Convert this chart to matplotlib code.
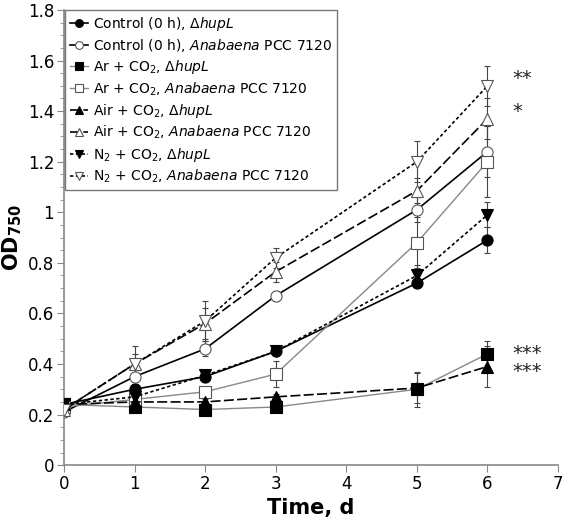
import matplotlib
matplotlib.use("Agg")
import matplotlib.pyplot as plt
from matplotlib.ticker import MultipleLocator, FuncFormatter

days = [0, 1, 2, 3, 5, 6]

ctrl_hup = [0.24, 0.30, 0.35, 0.45, 0.72, 0.89]
ctrl_hup_err = [0.01, 0.02, 0.02, 0.02, 0.02, 0.05]
ctrl_ana = [0.21, 0.35, 0.46, 0.67, 1.01, 1.24]
ctrl_ana_err = [0.01, 0.03, 0.03, 0.02, 0.05, 0.10]
ar_hup = [0.24, 0.23, 0.22, 0.23, 0.30, 0.44]
ar_hup_err = [0.01, 0.01, 0.02, 0.01, 0.07, 0.05]
ar_ana = [0.23, 0.26, 0.29, 0.36, 0.88, 1.20]
ar_ana_err = [0.01, 0.02, 0.02, 0.05, 0.10, 0.14]
air_hup = [0.24, 0.25, 0.25, 0.27, 0.305, 0.39]
air_hup_err = [0.01, 0.01, 0.01, 0.01, 0.06, 0.08]
air_ana = [0.22, 0.40, 0.56, 0.765, 1.085, 1.37]
air_ana_err = [0.01, 0.04, 0.06, 0.04, 0.05, 0.08]
n2_hup = [0.24, 0.27, 0.355, 0.45, 0.75, 0.99]
n2_hup_err = [0.01, 0.02, 0.02, 0.02, 0.04, 0.05]
n2_ana = [0.22, 0.40, 0.57, 0.82, 1.20, 1.50]
n2_ana_err = [0.01, 0.07, 0.08, 0.04, 0.08, 0.08]

labels = [
    r"Control (0 h), $\Delta\mathit{hupL}$",
    r"Control (0 h), $\mathit{Anabaena}$ PCC 7120",
    r"Ar + CO$_2$, $\Delta\mathit{hupL}$",
    r"Ar + CO$_2$, $\mathit{Anabaena}$ PCC 7120",
    r"Air + CO$_2$, $\Delta\mathit{hupL}$",
    r"Air + CO$_2$, $\mathit{Anabaena}$ PCC 7120",
    r"N$_2$ + CO$_2$, $\Delta\mathit{hupL}$",
    r"N$_2$ + CO$_2$, $\mathit{Anabaena}$ PCC 7120",
]

sig_labels = ["**", "*", "***", "***"]
sig_values = [1.53, 1.40, 0.44, 0.37]

plt.rcParams['mathtext.fontset'] = 'dejavusans'

fig = plt.figure(figsize=(5.66, 5.25), dpi=100)
ax = fig.add_axes([0.113, 0.114, 0.873, 0.867])

series = [
    (ctrl_hup, ctrl_hup_err, 'o', 'k', 'black', '-', 1.2),
    (ctrl_ana, ctrl_ana_err, 'o', 'w', 'black', '-', 1.2),
    (ar_hup, ar_hup_err, 's', 'k', '#888888', '-', 1.0),
    (ar_ana, ar_ana_err, 's', 'w', '#888888', '-', 1.0),
    (air_hup, air_hup_err, '^', 'k', 'black', (0, (6, 2)), 1.2),
    (air_ana, air_ana_err, '^', 'w', 'black', (0, (6, 2)), 1.2),
    (n2_hup, n2_hup_err, 'v', 'k', 'black', (0, (2, 1.5)), 1.2),
    (n2_ana, n2_ana_err, 'v', 'w', 'black', (0, (2, 1.5)), 1.2),
]

for (y, e, m, fc, lc, ls, lw), lab in zip(series, labels):
    ax.errorbar(days, y, yerr=e, fmt='none', ecolor='#444444', elinewidth=0.8,
                capsize=2.5, capthick=0.8, zorder=2)
    mec = 'black' if fc == 'k' else '#555555'
    ax.plot(days, y, color=lc, linestyle=ls, linewidth=lw, marker=m,
            markersize=8, markerfacecolor=fc,
            markeredgecolor=mec, markeredgewidth=0.8, label=lab, zorder=3)

for s, v in zip(sig_labels, sig_values):
    ax.text(6.35, v, s, fontsize=14, va='center', ha='left', color='#222222')

ax.set_xlim(0, 7)
ax.set_ylim(0, 1.8)
ax.xaxis.set_major_locator(MultipleLocator(1))
ax.yaxis.set_major_locator(MultipleLocator(0.2))
ax.yaxis.set_minor_locator(MultipleLocator(0.05))
ax.yaxis.set_major_formatter(FuncFormatter(lambda v, p: f"{v:g}"))
for side in ['top', 'right']:
    ax.spines[side].set_visible(False)
for side in ['left', 'bottom']:
    ax.spines[side].set_color('#888888')
    ax.spines[side].set_linewidth(1.2)
ax.tick_params(axis='both', which='major', direction='out', length=5, color='#888888',
               labelsize=12, pad=2)
ax.tick_params(axis='y', which='minor', direction='out', length=3, color='#888888')
ax.set_xlabel("Time, d", fontsize=15, fontweight='bold', labelpad=4)
ax.set_ylabel(r"OD$_{\mathbf{750}}$", fontsize=15, fontweight='bold', labelpad=3)

leg = ax.legend(loc='upper left', bbox_to_anchor=(0.003, 1.0), fontsize=10,
                frameon=True, fancybox=False, edgecolor='#555555',
                handlelength=1.3, handletextpad=0.35, labelspacing=0.3,
                borderpad=0.35, borderaxespad=0.0, markerscale=0.7)
leg.get_frame().set_linewidth(1.0)

fig.savefig("out.png", dpi=100)
